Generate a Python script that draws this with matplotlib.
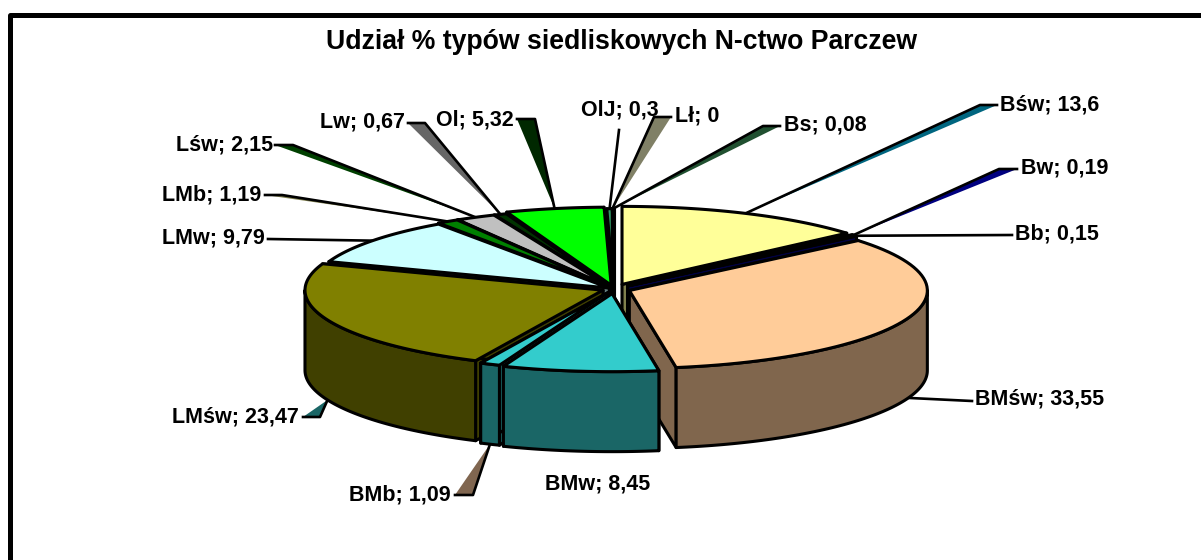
import numpy as np
import matplotlib
matplotlib.use('Agg')
import matplotlib.pyplot as plt
from matplotlib.patches import Polygon

# Data, clockwise from 12 o'clock
names = ['Bśw', 'Bw', 'Bb', 'BMśw', 'BMw', 'BMb', 'LMśw', 'LMw', 'LMb', 'Lśw', 'Lw', 'Ol', 'OlJ', 'Lł', 'Bs']
values = [13.6, 0.19, 0.15, 33.55, 8.45, 1.09, 23.47, 9.79, 1.19, 2.15, 0.67, 5.32, 0.3, 0, 0.08]
title = 'Udział % typów siedliskowych N-ctwo Parczew'

# Styles
colors = ['#FFFF99', '#000080', '#000080', '#FFCC99', '#33CCCC', '#33CCCC', '#808000', '#CCFFFF',
          '#008000', '#C0C0C0', '#003300', '#00FF00', '#339966', '#808066', '#205030']
explode = [.065, .06, .06, .055, .06, .05, .04, .02, .03, .03, .03, .05, .03, .03, .03]
draw_order = [12, 13, 14, 11, 10, 9, 8, 0, 1, 2, 7, 3, 6, 5, 4]

# Pie geometry in pixels
cx, cy = 614, 289
rx, ry = 298, 78
depth = 80
lw = 2.2

# Label layout: text left edge, text centre y
label_pos = [(1000, 105), (1021, 168), (1015, 234), (975, 399), (545, 484), (349, 495), (172, 417), (162, 238),
             (162, 195), (176, 145), (320, 122), (436, 120), (581, 110), (675, 116), (784, 125)]
# Leader bends after the rim point, None = no leader
leader_pts = [[(980, 105), (997, 105)], [(999, 169), (1017, 169)], [(1012, 235)], [(972, 401)], None,
              [(473, 495), (455, 495)], [(320, 417), (303, 417)], [(268, 239)], [(282, 195), (265, 195)],
              [(293, 145), (275, 145)], [(425, 123), (408, 123)], [(535, 119), (517, 119)], [(619, 130)],
              [(654, 117), (671, 117)], [(763, 126), (780, 126)]]
leader_fill = ['#006680', '#000080', None, None, None, '#806650', '#1A6666', None, '#808050', '#004000', '#666666',
               '#002800', '#339966', '#808066', '#205030']
leader_from_bottom = [False, False, False, True, False, True, True] + [False] * 8


def darker(c):
    return tuple(v * 0.5 for v in matplotlib.colors.to_rgb(c))


def rim(theta, x0, y0, dy=0):
    return np.column_stack([x0 + rx * np.sin(theta), y0 - ry * np.cos(theta) + dy])


plt.rcParams['font.family'] = ['Liberation Sans', 'DejaVu Sans']
fig = plt.figure(figsize=(12.01, 5.6), dpi=100)
ax = fig.add_axes([0, 0, 1, 1])
ax.set_xlim(0, 1201)
ax.set_ylim(560, 0)
ax.axis('off')

# chart frame, runs off the picture on the right and at the bottom
ax.plot([10, 10, 1210], [570, 15, 15], color='black', lw=3.6, solid_joinstyle='round')

ax.text(621.5, 42, title, fontsize=19.2, fontweight='bold', ha='center', va='center')

edges = np.radians(np.concatenate([[0], np.cumsum(values)]) * 3.6)
mids = (edges[:-1] + edges[1:]) / 2
vx = cx + np.array(explode) * rx * np.sin(mids)
vy = cy - np.array(explode) * ry * np.cos(mids)

# Leaders go under the pie
for i, pts in enumerate(leader_pts):
    if pts is None:
        continue
    start = rim(mids[i], vx[i], vy[i], depth if leader_from_bottom[i] else 0)[0]
    line = [tuple(start)] + pts
    if len(pts) == 2 and leader_fill[i]:
        ax.add_patch(Polygon(line, closed=True, facecolor=leader_fill[i], edgecolor='none', zorder=2))
    ax.plot(*zip(*line), color='black', lw=1.9, zorder=3)

z = 10
for i in draw_order:
    a1, a2 = edges[i], edges[i + 1]
    x0, y0 = vx[i], vy[i]
    top = rim(np.linspace(a1, a2, 60), x0, y0)
    side = darker(colors[i])
    # radial faces first, the slice itself paints over what is hidden
    for a in (a1, a2):
        p = rim(a, x0, y0)[0]
        face = [(x0, y0), p, (p[0], p[1] + depth), (x0, y0 + depth)]
        ax.add_patch(Polygon(face, closed=True, fc=side, ec='black', lw=lw, joinstyle='round', zorder=z))
        z += 1
    # outer wall, only the part that faces the viewer
    lo, hi = max(a1, np.pi / 2), min(a2, 3 * np.pi / 2)
    if hi > lo:
        t = np.linspace(lo, hi, 80)
        wall = np.vstack([rim(t, x0, y0), rim(t[::-1], x0, y0, depth)])
        ax.add_patch(Polygon(wall, closed=True, fc=side, ec='black', lw=lw, joinstyle='round', zorder=z))
        z += 1
    ax.add_patch(Polygon(np.vstack([[(x0, y0)], top]), closed=True, fc=colors[i], ec='black', lw=lw,
                         joinstyle='round', zorder=z))
    z += 1

for name, val, (tx, ty) in zip(names, values, label_pos):
    txt = f'{name}; {val}'.replace('.', ',')
    ax.text(tx, ty, txt, fontsize=15.5, fontweight='bold', ha='left', va='center', zorder=200)

fig.savefig('out.png', dpi=100)
